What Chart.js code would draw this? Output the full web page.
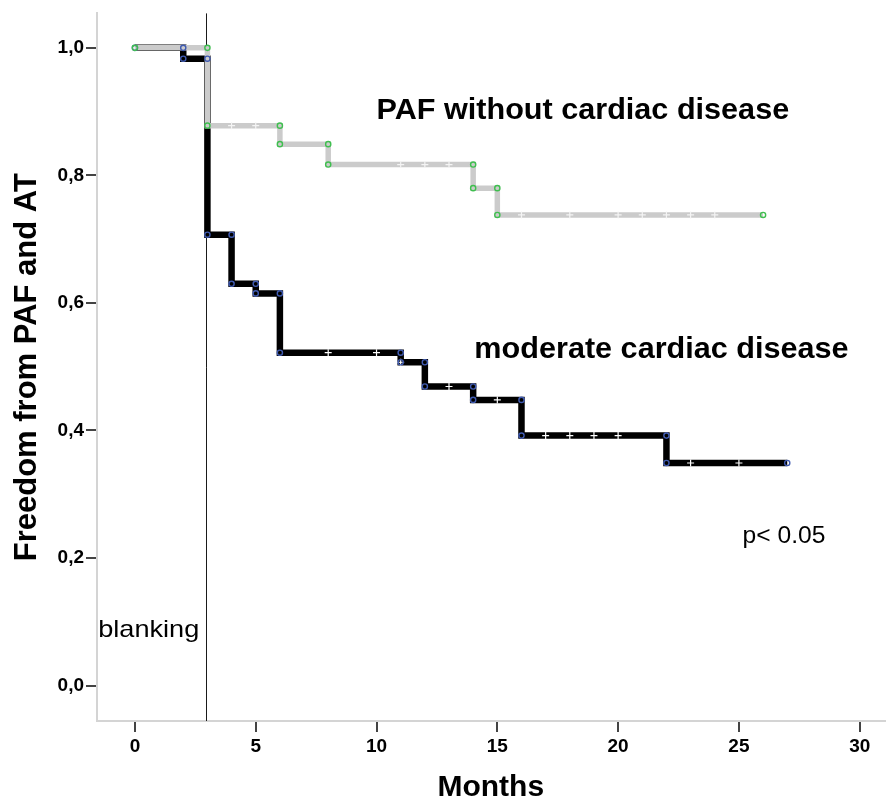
<!DOCTYPE html>
<html><head><meta charset="utf-8">
<script src="https://cdn.jsdelivr.net/npm/chart.js@4.4.1/dist/chart.umd.min.js"></script>
<style>html,body{margin:0;padding:0;background:#fff}#wrap{width:890px;height:803px}</style>
</head><body><div id="wrap"><canvas id="c" width="890" height="803"></canvas></div>
<script>
// ---- data ----
const pafMonths = [0, 3, 6, 8, 14, 15, 26];
const pafSurv = [1.0, 0.878, 0.849, 0.817, 0.780, 0.738, 0.738];
const pafCensored = [4, 5, 11, 12, 13, 16, 18, 20, 21, 22, 23, 24];
const modMonths = [0, 2, 3, 4, 5, 6, 11, 12, 14, 16, 22, 27];
const modSurv = [1.0, 0.983, 0.707, 0.630, 0.615, 0.522, 0.507, 0.469, 0.448, 0.392, 0.349, 0.349];
const modCensored = [8, 10, 11, 13, 15, 17, 18, 19, 20, 23, 25];
const xTicks = [0, 5, 10, 15, 20, 25, 30];
const yTicks = [0, 0.2, 0.4, 0.6, 0.8, 1.0];
const blankingMonth = 3;
const seriesNames = ['PAF without cardiac disease', 'moderate cardiac disease'];

// ---- helpers ----
function curve(t, s) { return t.map((x, i) => ({x: x, y: s[i]})); }
function corners(t, s) {
  const out = [{x: t[0], y: s[0]}];
  for (let i = 1; i < t.length; i++) {
    if (s[i] !== s[i - 1]) out.push({x: t[i], y: s[i - 1]});
    out.push({x: t[i], y: s[i]});
  }
  return out;
}
function survAt(t, s, m) {
  let v = s[0];
  for (let i = 0; i < t.length; i++) if (t[i] <= m) v = s[i];
  return v;
}
function censor(t, s, c) { return c.map(m => ({x: m, y: survAt(t, s, m)})); }

const FONT = '"Liberation Sans", Arial, sans-serif';
const notes = [
  {text: 'PAF without cardiac disease', x: 10, y: 0.902, font: 'bold 30px ' + FONT, sx: 1.02},
  {text: 'moderate cardiac disease', x: 14.05, y: 0.526, font: 'bold 30px ' + FONT, sx: 1.02},
  {text: 'p< 0.05', x: 25.15, y: 0.233, font: '23px ' + FONT, sx: 1.07},
  {text: 'blanking', x: -1.52, y: 0.087, font: '24px ' + FONT, sx: 1.13}
];

const annotPlugin = {
  id: 'annot',
  beforeDatasetsDraw(chart) {
    const {ctx, chartArea, scales} = chart;
    const px = Math.round(scales.x.getPixelForValue(blankingMonth)) - 0.5;
    ctx.save();
    ctx.strokeStyle = '#1a1a1a';
    ctx.lineWidth = 1;
    ctx.beginPath();
    ctx.moveTo(px, chartArea.top);
    ctx.lineTo(px, chartArea.bottom);
    ctx.stroke();
    ctx.restore();
  },
  afterDatasetsDraw(chart) {
    const {ctx, scales} = chart;
    notes.forEach(n => {
      ctx.save();
      ctx.fillStyle = '#000';
      ctx.textAlign = 'left';
      ctx.textBaseline = 'middle';
      ctx.font = n.font;
      ctx.translate(scales.x.getPixelForValue(n.x), scales.y.getPixelForValue(n.y));
      ctx.scale(n.sx, 1);
      ctx.fillText(n.text, 0, 0);
      ctx.restore();
    });
  }
};

new Chart(document.getElementById('c'), {
  type: 'scatter',
  data: {
    datasets: [
      {label: seriesNames[1], data: curve(modMonths, modSurv), showLine: true, stepped: true,
       borderColor: '#000', borderWidth: 6.5, pointRadius: 0, borderJoinStyle: 'miter', borderCapStyle: 'butt', order: 6},
      {label: seriesNames[0], data: curve(pafMonths, pafSurv), showLine: true, stepped: true,
       borderColor: '#cbcbcb', borderWidth: 5.5, pointRadius: 0, borderJoinStyle: 'miter', borderCapStyle: 'butt', order: 5},
      {label: 'mod censored', data: censor(modMonths, modSurv, modCensored), pointStyle: 'cross',
       pointRadius: 3.5, borderColor: '#ffffff', borderWidth: 1.2, backgroundColor: '#fff', order: 4},
      {label: 'paf censored', data: censor(pafMonths, pafSurv, pafCensored), pointStyle: 'cross',
       pointRadius: 3.5, borderColor: '#f4f4f4', borderWidth: 1.2, backgroundColor: '#fff', order: 3},
      {label: 'mod events', data: corners(modMonths, modSurv), pointStyle: 'circle',
       pointRadius: 2.6, borderColor: '#3f5ab0', borderWidth: 1.4, backgroundColor: 'rgba(0,0,0,0)', order: 2},
      {label: 'paf events', data: corners(pafMonths, pafSurv), pointStyle: 'circle',
       pointRadius: 2.6, borderColor: '#3fbf4f', borderWidth: 1.4, backgroundColor: 'rgba(0,0,0,0)', order: 1}
    ]
  },
  options: {
    responsive: false,
    animation: false,
    devicePixelRatio: 1,
    layout: {padding: {top: 13, right: 2, left: 0, bottom: 0}},
    plugins: {legend: {display: false}, tooltip: {enabled: false}},
    scales: {
      x: {
        type: 'linear', min: -1.57, max: 31.03,
        afterFit(s) { s.height = 82; },
        afterBuildTicks(s) { s.ticks = xTicks.map(v => ({value: v})); },
        ticks: {color: '#000', font: {family: FONT, size: 19, weight: 'bold'}, padding: 3, maxRotation: 0,
                callback: v => String(v)},
        grid: {drawOnChartArea: false, drawTicks: true, tickLength: 11, color: '#444', lineWidth: 2},
        border: {display: true, color: '#d4d4d4', width: 2},
        title: {display: true, text: 'Months', color: '#000',
                font: {family: FONT, size: 30, weight: 'bold', lineHeight: 1}, padding: {top: 0, bottom: 0}}
      },
      y: {
        type: 'linear', min: -0.0555, max: 1.054,
        afterFit(s) { s.width = 97; },
        afterBuildTicks(s) { s.ticks = yTicks.map(v => ({value: v})); },
        ticks: {color: '#000', font: {family: FONT, size: 19, weight: 'bold'}, padding: 2,
                callback: v => v.toFixed(1).replace('.', ',')},
        grid: {drawOnChartArea: false, drawTicks: true, tickLength: 11, color: '#444', lineWidth: 2},
        border: {display: true, color: '#d4d4d4', width: 2},
        title: {display: true, text: 'Freedom from PAF and AT', color: '#000',
                font: {family: FONT, size: 31, weight: 'bold', lineHeight: 1}, padding: {top: 12, bottom: 0}}
      }
    }
  },
  plugins: [annotPlugin]
});
</script></body></html>
